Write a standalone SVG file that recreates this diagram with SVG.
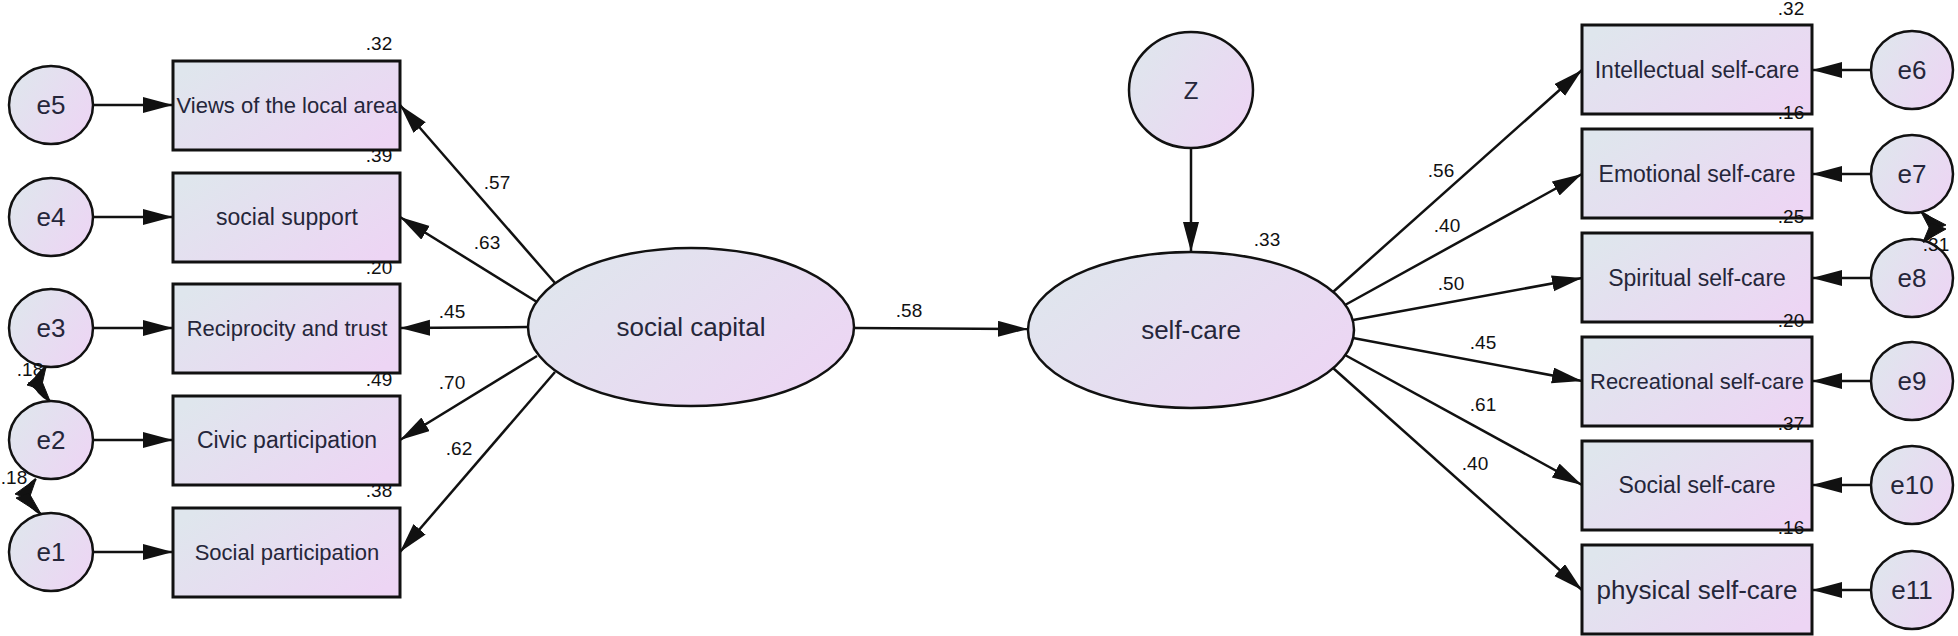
<svg xmlns="http://www.w3.org/2000/svg" width="1958" height="636" viewBox="0 0 1958 636">
<defs>
  <linearGradient id="fill" x1="0" y1="0.2" x2="1" y2="0.8">
    <stop offset="0" stop-color="#dfe6ed"/>
    <stop offset="1" stop-color="#edd5f4"/>
  </linearGradient>
  <marker id="ah" markerUnits="userSpaceOnUse" viewBox="0 0 32 18" markerWidth="32" markerHeight="18" refX="30" refY="8" orient="auto">
    <path d="M0,0 L30,8 L0,16 z" fill="#111"/>
  </marker>
</defs>
<style>
  .box{fill:url(#fill);stroke:#111;stroke-width:3}
  .lat{fill:url(#fill);stroke:#111;stroke-width:2.5}
  .lbl{font-family:"Liberation Sans",Arial,sans-serif;font-size:23px;fill:#25263a;text-anchor:middle;dominant-baseline:central}
  .big{font-size:26px}
  .coef{font-family:"Liberation Sans",Arial,sans-serif;font-size:19px;fill:#111;text-anchor:middle;dominant-baseline:central}
  .edge{stroke:#111;stroke-width:2.5;fill:none;marker-end:url(#ah)}
  .cov{stroke:#111;stroke-width:2.5;fill:none}
  .head{fill:#111;stroke:#111;stroke-width:1}
</style>
<rect width="1958" height="636" fill="#ffffff"/>

<g id="e5"><ellipse class="lat" cx="51" cy="105" rx="42" ry="39"/><text class="lbl big" x="51" y="105">e5</text></g>
<g id="e4"><ellipse class="lat" cx="51" cy="217" rx="42" ry="39"/><text class="lbl big" x="51" y="217">e4</text></g>
<g id="e3"><ellipse class="lat" cx="51" cy="328" rx="42" ry="39"/><text class="lbl big" x="51" y="328">e3</text></g>
<g id="e2"><ellipse class="lat" cx="51" cy="440" rx="42" ry="39"/><text class="lbl big" x="51" y="440">e2</text></g>
<g id="e1"><ellipse class="lat" cx="51" cy="552" rx="42" ry="39"/><text class="lbl big" x="51" y="552">e1</text></g>

<g id="views"><rect class="box" x="173" y="61" width="227" height="89"/><text class="lbl" x="287" y="105" style="font-size:22px">Views of the local area</text></g>
<g id="support"><rect class="box" x="173" y="173" width="227" height="89"/><text class="lbl" x="287" y="217">social support</text></g>
<g id="reciprocity"><rect class="box" x="173" y="284" width="227" height="89"/><text class="lbl" x="287" y="328" style="font-size:22px">Reciprocity and trust</text></g>
<g id="civic"><rect class="box" x="173" y="396" width="227" height="89"/><text class="lbl" x="287" y="440">Civic participation</text></g>
<g id="socpart"><rect class="box" x="173" y="508" width="227" height="89"/><text class="lbl" x="287" y="552" style="font-size:22px">Social participation</text></g>

<g id="socialcapital"><ellipse class="lat" cx="691" cy="327" rx="163" ry="79"/><text class="lbl" x="691" y="327" style="font-size:26px">social capital</text></g>
<g id="z"><ellipse class="lat" cx="1191" cy="90" rx="62" ry="58"/><text class="lbl" x="1191" y="90" style="font-size:24px">Z</text></g>
<g id="selfcare"><ellipse class="lat" cx="1191" cy="330" rx="163" ry="78"/><text class="lbl" x="1191" y="330" style="font-size:26px">self-care</text></g>

<g id="intellectual"><rect class="box" x="1582" y="25" width="230" height="89"/><text class="lbl" x="1697" y="70">Intellectual self-care</text></g>
<g id="emotional"><rect class="box" x="1582" y="129" width="230" height="89"/><text class="lbl" x="1697" y="174">Emotional self-care</text></g>
<g id="spiritual"><rect class="box" x="1582" y="233" width="230" height="89"/><text class="lbl" x="1697" y="278">Spiritual self-care</text></g>
<g id="recreational"><rect class="box" x="1582" y="337" width="230" height="89"/><text class="lbl" x="1697" y="381" style="font-size:22px">Recreational self-care</text></g>
<g id="socialsc"><rect class="box" x="1582" y="441" width="230" height="89"/><text class="lbl" x="1697" y="485">Social self-care</text></g>
<g id="physical"><rect class="box" x="1582" y="545" width="230" height="89"/><text class="lbl big" x="1697" y="590">physical self-care</text></g>

<g id="e6"><ellipse class="lat" cx="1912" cy="70" rx="41" ry="39"/><text class="lbl big" x="1912" y="70">e6</text></g>
<g id="e7"><ellipse class="lat" cx="1912" cy="174" rx="41" ry="39"/><text class="lbl big" x="1912" y="174">e7</text></g>
<g id="e8"><ellipse class="lat" cx="1912" cy="278" rx="41" ry="39"/><text class="lbl big" x="1912" y="278">e8</text></g>
<g id="e9"><ellipse class="lat" cx="1912" cy="381" rx="41" ry="39"/><text class="lbl big" x="1912" y="381">e9</text></g>
<g id="e10"><ellipse class="lat" cx="1912" cy="485" rx="41" ry="39"/><text class="lbl big" x="1912" y="485">e10</text></g>
<g id="e11"><ellipse class="lat" cx="1912" cy="590" rx="41" ry="39"/><text class="lbl big" x="1912" y="590">e11</text></g>

<g id="connectors">
  <path class="edge" d="M93,105 L173,105"/>
  <path class="edge" d="M93,217 L173,217"/>
  <path class="edge" d="M93,328 L173,328"/>
  <path class="edge" d="M93,440 L173,440"/>
  <path class="edge" d="M93,552 L173,552"/>
  <path class="edge" d="M1871,70 L1812,70"/>
  <path class="edge" d="M1871,174 L1812,174"/>
  <path class="edge" d="M1871,278 L1812,278"/>
  <path class="edge" d="M1871,381 L1812,381"/>
  <path class="edge" d="M1871,485 L1812,485"/>
  <path class="edge" d="M1871,590 L1812,590"/>
  <path class="edge" d="M555,283 L400,105"/>
  <path class="edge" d="M537,302 L400,217"/>
  <path class="edge" d="M528,327 L400,328"/>
  <path class="edge" d="M537,356 L400,440"/>
  <path class="edge" d="M555,372 L400,552"/>
  <path class="edge" d="M854,328 L1028,329"/>
  <path class="edge" d="M1191,148 L1191,252"/>
  <path class="edge" d="M1333,292 L1582,70"/>
  <path class="edge" d="M1345,305 L1582,174"/>
  <path class="edge" d="M1353,320 L1582,278"/>
  <path class="edge" d="M1353,338 L1582,381"/>
  <path class="edge" d="M1345,355 L1582,485"/>
  <path class="edge" d="M1333,368 L1582,590"/>
  <g id="cov-e3-e2">
    <path class="cov" d="M46,367 Q22,384 50,401"/>
    <polygon class="head" points="46,367 27,385 41,389"/>
    <polygon class="head" points="50,401 28,383 41,379"/>
  </g>
  <g id="cov-e2-e1">
    <path class="cov" d="M36,479 Q12,496 41,514"/>
    <polygon class="head" points="36,479 15,494 29,499"/>
    <polygon class="head" points="41,514 16,498 29,493"/>
  </g>
  <g id="cov-e7-e8">
    <path class="cov" d="M1921,212 Q1950,227 1923,242"/>
    <polygon class="head" points="1921,212 1946,225 1931,231"/>
    <polygon class="head" points="1923,242 1946,229 1931,223"/>
  </g>
  <text class="coef" x="497" y="182">.57</text>
  <text class="coef" x="487" y="242">.63</text>
  <text class="coef" x="452" y="311">.45</text>
  <text class="coef" x="452" y="382">.70</text>
  <text class="coef" x="459" y="448">.62</text>
  <text class="coef" x="909" y="310">.58</text>
  <text class="coef" x="1267" y="239">.33</text>
  <text class="coef" x="1441" y="170">.56</text>
  <text class="coef" x="1447" y="225">.40</text>
  <text class="coef" x="1451" y="283">.50</text>
  <text class="coef" x="1483" y="342">.45</text>
  <text class="coef" x="1483" y="404">.61</text>
  <text class="coef" x="1475" y="463">.40</text>
  <text class="coef" x="30" y="369">.18</text>
  <text class="coef" x="14" y="477">.18</text>
  <text class="coef" x="1936" y="244">.31</text>
  <text class="coef" x="379" y="43">.32</text>
  <text class="coef" x="379" y="155">.39</text>
  <text class="coef" x="379" y="267">.20</text>
  <text class="coef" x="379" y="379">.49</text>
  <text class="coef" x="379" y="490">.38</text>
  <text class="coef" x="1791" y="8">.32</text>
  <text class="coef" x="1791" y="112">.16</text>
  <text class="coef" x="1791" y="216">.25</text>
  <text class="coef" x="1791" y="320">.20</text>
  <text class="coef" x="1791" y="423">.37</text>
  <text class="coef" x="1791" y="527">.16</text>
</g>
</svg>
